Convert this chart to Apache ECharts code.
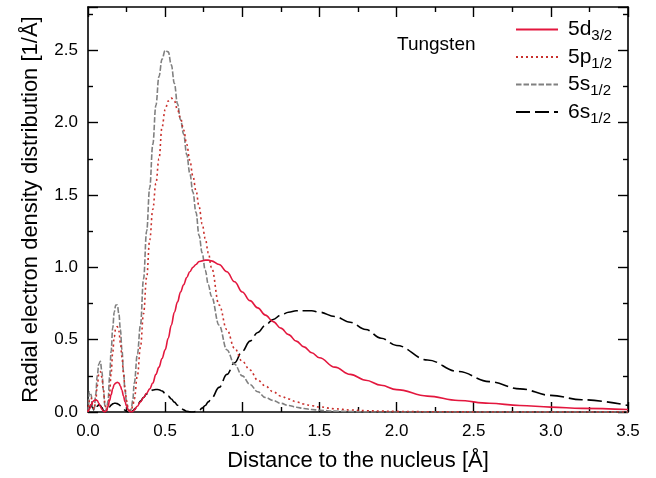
<!DOCTYPE html>
<html>
<head>
<meta charset="utf-8">
<script src="https://cdn.jsdelivr.net/npm/echarts@6/dist/echarts.min.js"></script>
<style>
  html, body { margin: 0; padding: 0; background: #fff; }
  #chart { width: 656px; height: 478px; }
</style>
</head>
<body>
<div id="chart"></div>
<script>
// distance to the nucleus [Å]
const distance = [
  0, 0.01, 0.02, 0.03, 0.04, 0.05, 0.06, 0.07, 0.08, 0.09,
  0.10, 0.11, 0.12, 0.13, 0.14, 0.15, 0.16, 0.17, 0.18, 0.19,
  0.20, 0.21, 0.22, 0.23, 0.24, 0.25, 0.26, 0.27, 0.28, 0.29, 0.30,
  0.32, 0.34, 0.36, 0.38, 0.40, 0.42, 0.44, 0.46, 0.48, 0.50,
  0.52, 0.54, 0.56, 0.58, 0.60, 0.62, 0.64, 0.66, 0.68, 0.70,
  0.72, 0.74, 0.76, 0.78, 0.80,
  0.85, 0.90, 0.95, 1.00, 1.05, 1.10, 1.15, 1.20, 1.25, 1.30, 1.35, 1.40, 1.45, 1.50,
  1.60, 1.70, 1.80, 1.90, 2.00,
  2.20, 2.40, 2.60, 2.80, 3.00, 3.20, 3.50
]

const d32 = [
  0, 0.02, 0.05, 0.07, 0.08, 0.085, 0.08, 0.06, 0.04, 0.02,
  0.005, 0, 0.01, 0.04, 0.08, 0.12, 0.16, 0.19, 0.20, 0.205,
  0.20, 0.18, 0.15, 0.11, 0.07, 0.04, 0.015, 0.003, 0, 0.003, 0.015,
  0.04, 0.07, 0.10, 0.13, 0.16, 0.20, 0.26, 0.31, 0.37, 0.43,
  0.51, 0.60, 0.69, 0.76, 0.83, 0.88, 0.93, 0.97, 1.00, 1.02,
  1.04, 1.045, 1.05, 1.05, 1.045,
  1.02, 0.97, 0.90, 0.83, 0.77, 0.72, 0.67, 0.625, 0.58, 0.535, 0.49, 0.45, 0.41, 0.375,
  0.31, 0.26, 0.22, 0.185, 0.155,
  0.11, 0.08, 0.06, 0.045, 0.034, 0.025, 0.017
]

const p12 = [
  0, 0.08, 0.10, 0.05, 0.02, 0.08, 0.18, 0.26, 0.28, 0.24,
  0.15, 0.06, 0.01, 0.03, 0.13, 0.27, 0.41, 0.52, 0.58, 0.59,
  0.56, 0.48, 0.38, 0.27, 0.16, 0.08, 0.03, 0.01, 0.01, 0.04, 0.09,
  0.25, 0.45, 0.68, 0.93, 1.19, 1.40, 1.58, 1.75, 1.97, 2.09,
  2.15, 2.17, 2.15, 2.09, 2.03, 1.95, 1.85, 1.74, 1.63, 1.53,
  1.42, 1.30, 1.20, 1.10, 1.00,
  0.74, 0.57, 0.44, 0.35, 0.29, 0.22, 0.18, 0.14, 0.11, 0.09, 0.07, 0.055, 0.043, 0.035,
  0.022, 0.014, 0.009, 0.006, 0.004,
  0.002, 0.001, 0, 0, 0, 0, 0
]

const s12 = [
  0, 0.14, 0.12, 0.03, 0.02, 0.12, 0.25, 0.33, 0.35, 0.28,
  0.15, 0.04, 0.01, 0.08, 0.24, 0.42, 0.58, 0.69, 0.74, 0.74,
  0.68, 0.57, 0.43, 0.28, 0.15, 0.06, 0.01, 0, 0.02, 0.08, 0.20,
  0.40, 0.60, 0.92, 1.25, 1.55, 1.85, 2.12, 2.32, 2.44, 2.50,
  2.49, 2.40, 2.27, 2.13, 2.02, 1.92, 1.78, 1.65, 1.52, 1.38,
  1.22, 1.10, 0.98, 0.88, 0.80,
  0.60, 0.43, 0.33, 0.25, 0.19, 0.14, 0.10, 0.08, 0.06, 0.045, 0.033, 0.024, 0.017, 0.012,
  0.006, 0.003, 0.001, 0, 0,
  0, 0, 0, 0, 0, 0, 0
]

const s6 = [
  0, 0.03, 0.05, 0.03, 0.01, 0.02, 0.04, 0.05, 0.045, 0.03,
  0.01, 0, 0.005, 0.02, 0.035, 0.048, 0.056, 0.06, 0.06, 0.058,
  0.052, 0.043, 0.032, 0.022, 0.012, 0.005, 0.001, 0, 0.002, 0.008, 0.018,
  0.045, 0.075, 0.10, 0.125, 0.142, 0.152, 0.156, 0.154, 0.145, 0.13,
  0.11, 0.09, 0.068, 0.047, 0.03, 0.015, 0.005, 0.001, 0, 0.003,
  0.012, 0.027, 0.045, 0.07, 0.095,
  0.17, 0.26, 0.34, 0.42, 0.49, 0.55, 0.60, 0.64, 0.67, 0.69, 0.70, 0.70, 0.70, 0.69,
  0.66, 0.62, 0.57, 0.51, 0.46,
  0.36, 0.28, 0.21, 0.16, 0.115, 0.085, 0.045
]

const seriesNames = ['5d3/2', '5p1/2', '5s1/2', '6s1/2']
const seriesValues = [d32, p12, s12, s6]
const seriesColors = ['#e3173e', '#c9302c', '#808080', '#000000']
const seriesDashes = ['solid', [2, 3], [5.5, 2], [14, 5]]

const font = 'Liberation Sans, Arial, sans-serif'
const chart = echarts.init(document.getElementById('chart'))

const tickLabel = (v) => {
  const r = Math.round(v * 2) / 2
  return Math.abs(r - v) < 1e-6 ? v.toFixed(1) : ''
}

const axisCommon = {
  type: 'value',
  interval: 0.5,
  axisLine: { show: true, onZero: false, lineStyle: { color: '#000', width: 1.6 } },
  axisTick: { show: true, inside: true, length: 10, lineStyle: { color: '#000', width: 1.4 } },
  minorTick: { show: true, splitNumber: 2, length: 5, lineStyle: { color: '#000', width: 1.4 } },
  splitLine: { show: false },
}

chart.setOption({
  animation: false,
  backgroundColor: '#fff',
  textStyle: { fontFamily: font },
  grid: { left: 88, right: 28, top: 7, bottom: 66 },
  title: {
    text: 'Tungsten',
    left: 397,
    top: 35,
    padding: 0,
    textStyle: { fontFamily: font, fontSize: 19, fontWeight: 'normal', color: '#000' },
  },
  legend: {
    orient: 'vertical',
    left: 515,
    top: 19,
    padding: 0,
    itemGap: 3,
    itemWidth: 42,
    itemHeight: 14,
    itemStyle: { opacity: 0 },
    data: seriesNames,
    formatter: (name) => `{m|${name.slice(0, 2)}}{s|${name.slice(2)}}`,
    textStyle: {
      padding: [0, 0, 0, 5],
      rich: {
        m: { fontFamily: font, fontSize: 21, lineHeight: 28, color: '#000' },
        s: { fontFamily: font, fontSize: 15, lineHeight: 16, verticalAlign: 'bottom', color: '#000' },
      },
    },
  },
  xAxis: [
    {
      ...axisCommon,
      min: 0,
      max: 3.5,
      position: 'bottom',
      name: 'Distance to the nucleus [Å]',
      nameLocation: 'middle',
      nameGap: 38,
      nameTextStyle: { fontFamily: font, fontSize: 22, color: '#000' },
      axisLabel: { margin: 11, fontFamily: font, fontSize: 17, color: '#000', formatter: tickLabel },
    },
    {
      ...axisCommon,
      min: 0,
      max: 3.5,
      position: 'top',
      axisLabel: { show: false },
    },
  ],
  yAxis: [
    {
      ...axisCommon,
      min: 0,
      max: 2.8,
      position: 'left',
      name: 'Radial electron density distribution [1/Å]',
      nameLocation: 'middle',
      nameGap: 46,
      nameTextStyle: { fontFamily: font, fontSize: 22, color: '#000' },
      axisLabel: { margin: 10, fontFamily: font, fontSize: 17, color: '#000', formatter: tickLabel },
    },
    {
      ...axisCommon,
      min: 0,
      max: 2.8,
      position: 'right',
      axisLabel: { show: false },
    },
  ],
  series: seriesNames.map((name, i) => ({
    name,
    type: 'line',
    xAxisIndex: 0,
    yAxisIndex: 0,
    symbol: 'none',
    smooth: 0.4,
    smoothMonotone: 'x',
    color: seriesColors[i],
    lineStyle: { color: seriesColors[i], width: 1.6, type: seriesDashes[i] },
    data: distance.map((x, k) => [x, seriesValues[i][k]]),
    z: 10 - i,
  })),
})
</script>
</body>
</html>
